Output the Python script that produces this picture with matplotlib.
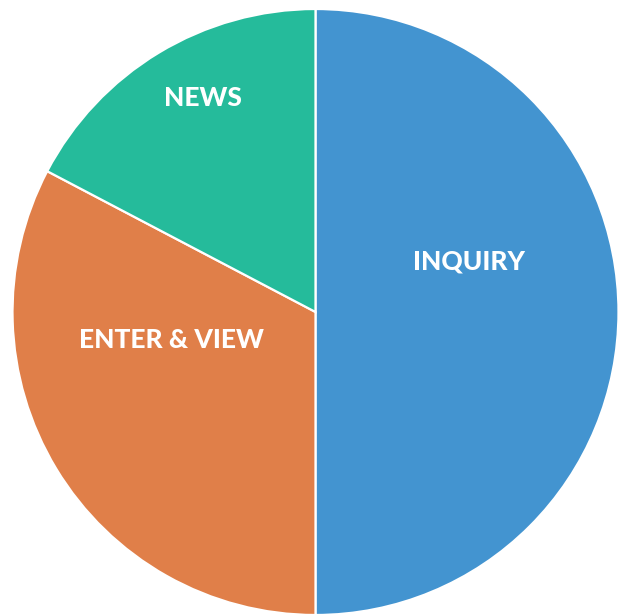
import matplotlib
matplotlib.use("Agg")
from matplotlib import pyplot as plt

# 数据
labels = ["INQUIRY", "ENTER & VIEW", "NEWS"]
counts = [26, 17, 9]
colors = ["#4394d0", "#e07f49", "#25bb9b"]
# 标签位置（以半径为单位）
label_pos = [(0.507, 0.168), (-0.474, -0.093), (-0.371, 0.706)]

fig = plt.figure(figsize=(6.22, 6.15), dpi=100)
ax = fig.add_axes([0, 0, 1, 1])
ax.pie(counts, colors=colors, startangle=90, counterclock=False, radius=1,
       wedgeprops={"edgecolor": "white", "linewidth": 1.6})
for lab, (x, y) in zip(labels, label_pos):
    ax.text(x, y, lab, color="white", fontsize=19, fontweight="black",
            family=["Lato", "DejaVu Sans"], ha="center", va="center")
ax.set_xlim(-1.0413, 1.0116)
ax.set_ylim(-1.0, 1.0297)
ax.set_aspect("equal")
ax.axis("off")
fig.savefig("out.png", dpi=100)
